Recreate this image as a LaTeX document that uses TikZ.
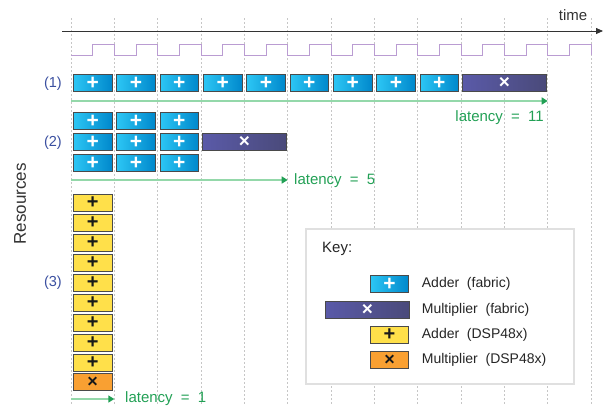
\documentclass[tikz,border=0pt]{standalone}
\usepackage{fontspec}
\setmainfont{Liberation Sans}
\usepackage{tikz}
\usetikzlibrary{arrows.meta,positioning,calc}
\definecolor{addblueL}{HTML}{2CC6F4}
\definecolor{addblueR}{HTML}{0088CC}
\definecolor{mulnavyL}{HTML}{5A5AA8}
\definecolor{mulnavyM}{HTML}{2E2E80}
\definecolor{mulnavyR}{HTML}{4A4A7A}
\definecolor{dspyellow}{HTML}{FFE04A}
\definecolor{dsporange}{HTML}{F9A032}
\definecolor{boxedge}{HTML}{4A4A4A}
\definecolor{clockpurple}{HTML}{BA9CD2}
\definecolor{labelblue}{HTML}{3A4FA0}
\definecolor{latgreen}{HTML}{22A055}
\definecolor{latline}{HTML}{94D8AA}
\tikzstyle{op}=[draw=boxedge,line width=0.8pt,minimum height=17pt,minimum width=38.5pt,inner sep=0pt,font=\bfseries\fontsize{21}{21}\selectfont]
\tikzstyle{fabadd}=[op,left color=addblueL,right color=addblueR,text=white]
\tikzstyle{fabmul}=[op,minimum width=83.5pt,left color=mulnavyL,middle color=mulnavyM,right color=mulnavyR,text=white,font=\bfseries\fontsize{19}{19}\selectfont]
\tikzstyle{dspadd}=[op,minimum height=16.5pt,fill=dspyellow,text=black!90,font=\bfseries\fontsize{20}{20}\selectfont]
\tikzstyle{dspmul}=[op,minimum height=16.5pt,fill=dsporange,text=black!90,font=\bfseries\fontsize{18}{18}\selectfont]
\tikzstyle{grid}=[gray!45,line width=0.5pt,dash pattern=on 2pt off 2pt]
\tikzstyle{clock}=[clockpurple,line width=0.9pt]
\tikzstyle{lat}=[latline,line width=1.8pt,-{Triangle[color=latgreen,length=6pt,width=7pt]}]
\tikzstyle{lattext}=[latgreen,inner sep=0pt,font=\fontsize{15}{15}\selectfont]
\tikzstyle{rowlabel}=[labelblue,inner sep=0pt,anchor=east,font=\fontsize{14.5}{14.5}\selectfont]
\tikzstyle{keytext}=[black!85,inner sep=0pt,anchor=west,font=\fontsize{14}{14}\selectfont]
\newcommand{\gap}{\hspace{0.55em}}

\begin{document}
\begin{tikzpicture}[x=1pt,y=-1pt]
\useasboundingbox (0,0) rectangle (604,405);
% clock grid
\foreach \k in {0,...,12}
  \draw[grid] ({71+43.33*\k},18) -- ({71+43.33*\k},405);
% time axis and clock
\coordinate (ta) at (62,31);
\coordinate (tb) at (603,31);
\draw[black!80,line width=0.8pt,-{Triangle[length=7pt,width=6pt]}] (ta) -- (tb);
\node[black!80,inner sep=0pt,font=\fontsize{15}{15}\selectfont] (time) at (573,15) {time};
\draw[clock] (71,55) \foreach \k in {0,...,11} {
  -- ({92.67+43.33*\k},55) -- ({92.67+43.33*\k},44.5)
  -- ({114.33+43.33*\k},44.5) -- ({114.33+43.33*\k},55) };

\node[black!80,rotate=90,inner sep=0pt,font=\fontsize{17}{17}\selectfont] (res) at (20,204) {Resources};

% (1) one adder, serial
\node[rowlabel] (l1) at (62,84) {(1)};
\foreach \k in {0,...,8}
  \node[fabadd] (r1a\k) at ({92.7+43.33*\k},83) {+};
\node[fabmul] (r1m) at (504.3,83) {×};
\coordinate (s1) at (71,101);
\coordinate (e1) at (547.7,101);
\draw[lat] (s1) -- (e1);
\node[lattext,anchor=east] (lat1) at (544,118) {latency\gap=\gap11};

% (2) three adders per stage
\node[rowlabel] (l2) at (62,143) {(2)};
\foreach \r/\yy in {0/121,1/142,2/163}
  \foreach \k in {0,1,2}
    \node[fabadd] (r2a\r\k) at ({92.7+43.33*\k},\yy) {+};
\node[fabmul] (r2m) at (244.5,142) {×};
\coordinate (s2) at (71,180);
\coordinate (e2) at (287.7,180);
\draw[lat] (s2) -- (e2);
\node[lattext,anchor=west] (lat2) at (294,181) {latency\gap=\gap5};

% (3) DSP48x slices, fully parallel
\node[rowlabel] (l3) at (62,283) {(3)};
\foreach \k in {0,...,8}
  \node[dspadd] (r3a\k) at (92.7,{202.7+20*\k}) {+};
\node[dspmul] (r3m) at (92.7,382) {×};
\coordinate (s3) at (71,399);
\coordinate (e3) at (114.3,399);
\draw[lat] (s3) -- (e3);
\node[lattext,anchor=west] (lat3) at (125,399) {latency\gap=\gap1};

% key
\node[draw=black!12,line width=2pt,fill=white,anchor=north west,minimum width=268pt,minimum height=155pt] (key) at (305,228) {};
\node[keytext,font=\fontsize{15}{15}\selectfont] (keyt) at (322,249) {Key:};
\node[fabadd] (kfa) at (389.5,284) {+};
\node[fabmul] (kfm) at (367.5,309.7) {×};
\node[dspadd] (kda) at (389.5,335) {+};
\node[dspmul] (kdm) at (389.5,360) {×};
\node[keytext] (tfa) at (421.7,284) {Adder\gap(fabric)};
\node[keytext] (tfm) at (421.7,309.7) {Multiplier\gap(fabric)};
\node[keytext] (tda) at (421.7,335) {Adder\gap(DSP48x)};
\node[keytext] (tdm) at (421.7,360) {Multiplier\gap(DSP48x)};
\end{tikzpicture}
\end{document}
